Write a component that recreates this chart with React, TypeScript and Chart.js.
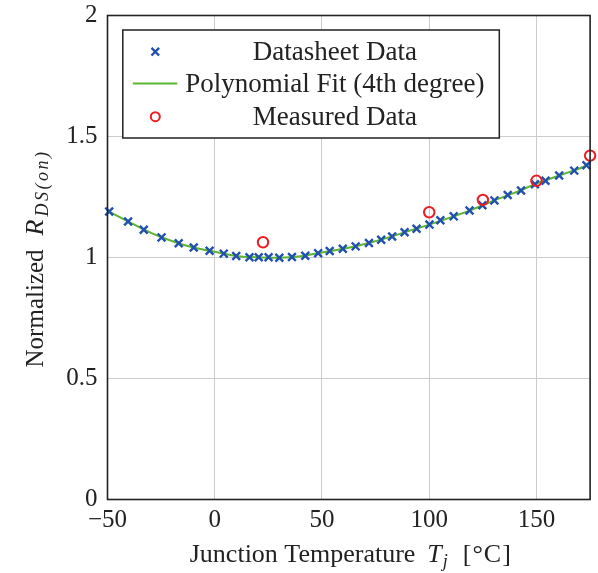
import React, { useEffect, useRef } from "react";
import { Chart, registerables } from "chart.js";

Chart.register(...registerables);

// Datasheet data (Tj in °C, normalized RDS(on))
const DS_T = [-49.2, -40.4, -33.1, -24.8, -16.8, -9.8, -2.4, 4.2, 10.0, 16.2, 20.5, 25.1, 30.1, 36.0, 42.2, 48.2, 53.6, 59.7, 65.7, 71.9, 77.6, 82.7, 88.5, 94.1, 100.1, 105.2, 111.4, 118.8, 124.8, 130.4, 136.6, 142.8, 149.3, 154.2, 160.6, 167.6, 173.3];
const DS_R = [1.190, 1.149, 1.115, 1.083, 1.059, 1.041, 1.028, 1.016, 1.006, 1.001, 1.001, 1.001, 0.999, 1.002, 1.007, 1.018, 1.027, 1.036, 1.046, 1.060, 1.073, 1.087, 1.104, 1.119, 1.136, 1.154, 1.170, 1.194, 1.216, 1.236, 1.258, 1.277, 1.303, 1.317, 1.339, 1.359, 1.381];

// Polynomial fit curve
const FIT_T = [-50, -40, -30, -20, -10, 0, 10, 20, 30, 40, 50, 60, 70, 80, 90, 100, 110, 120, 130, 140, 150, 160, 170, 175];
const FIT_R = [1.193, 1.147, 1.103, 1.068, 1.041, 1.024, 1.006, 1.001, 0.999, 1.005, 1.021, 1.036, 1.056, 1.080, 1.108, 1.136, 1.166, 1.198, 1.235, 1.268, 1.305, 1.337, 1.368, 1.387];

// Measured data
const MEAS_T = [22.5, 100, 125, 150, 175];
const MEAS_R = [1.063, 1.187, 1.238, 1.317, 1.421];

const X_TICKS = [-50, 0, 50, 100, 150];
const Y_TICKS = [0, 0.5, 1, 1.5, 2];

const LEGEND_LABELS = ["Datasheet Data", "Polynomial Fit (4th degree)", "Measured Data"];

const FONT = "'Liberation Serif', 'Times New Roman', serif";
const BLUE = "#2150ad";
const GREEN = "#5cb531";
const RED = "#ec1c24";
const TEXT = "#222222";

type Piece = { text?: string; font?: string; dy?: number; gap?: number; ls?: number };

function pieceWidth(ctx: any, p: Piece) {
  if (p.gap !== undefined) return p.gap;
  ctx.font = p.font;
  ctx.letterSpacing = (p.ls || 0) + "px";
  const w = ctx.measureText(p.text).width;
  ctx.letterSpacing = "0px";
  return w;
}

function drawPieces(ctx: any, pieces: Piece[], cx: number, y: number) {
  const widths = pieces.map((p) => pieceWidth(ctx, p));
  const total = widths.reduce((a, b) => a + b, 0);
  let x = cx - total / 2;
  ctx.textAlign = "left";
  ctx.textBaseline = "alphabetic";
  pieces.forEach((p, i) => {
    if (p.text !== undefined) {
      ctx.font = p.font;
      ctx.letterSpacing = (p.ls || 0) + "px";
      ctx.fillText(p.text, x, y + (p.dy || 0));
      ctx.letterSpacing = "0px";
    }
    x += widths[i];
  });
}

const overlayPlugin = {
  id: "overlay",
  afterDatasetsDraw(chart: any) {
    const { ctx, chartArea } = chart;
    ctx.save();
    ctx.strokeStyle = TEXT;
    ctx.lineWidth = 1.6;
    ctx.strokeRect(chartArea.left, chartArea.top, chartArea.right - chartArea.left, chartArea.bottom - chartArea.top);
    ctx.restore();
  },
  afterDraw(chart: any) {
    const { ctx, chartArea } = chart;
    ctx.save();
    // Legend box
    const bx = chartArea.left + 15.3;
    const by = chartArea.top + 14.5;
    const bw = 376.5;
    const bh = 108;
    ctx.fillStyle = "#ffffff";
    ctx.fillRect(bx, by, bw, bh);
    ctx.strokeStyle = TEXT;
    ctx.lineWidth = 1.5;
    ctx.strokeRect(bx, by, bw, bh);

    const mx = bx + 32.5;
    const rowsMid = [21.7, 53.5, 86.7];
    const rowsBase = [29.5, 62, 95];
    // cross marker
    ctx.strokeStyle = BLUE;
    ctx.lineWidth = 2.4;
    const cy0 = by + rowsMid[0];
    const s = 3.8;
    ctx.beginPath();
    ctx.moveTo(mx - s, cy0 - s);
    ctx.lineTo(mx + s, cy0 + s);
    ctx.moveTo(mx + s, cy0 - s);
    ctx.lineTo(mx - s, cy0 + s);
    ctx.stroke();
    // line sample
    ctx.strokeStyle = GREEN;
    ctx.lineWidth = 2;
    ctx.beginPath();
    ctx.moveTo(bx + 10, by + rowsMid[1]);
    ctx.lineTo(bx + 54.5, by + rowsMid[1]);
    ctx.stroke();
    // circle marker
    ctx.strokeStyle = RED;
    ctx.lineWidth = 2;
    ctx.beginPath();
    ctx.arc(mx, by + rowsMid[2], 4.5, 0, Math.PI * 2);
    ctx.stroke();

    ctx.fillStyle = TEXT;
    ctx.font = `27px ${FONT}`;
    ctx.textAlign = "center";
    ctx.textBaseline = "alphabetic";
    LEGEND_LABELS.forEach((t, i) => {
      ctx.fillText(t, bx + 212, by + rowsBase[i]);
    });

    // X axis title
    const cx = (chartArea.left + chartArea.right) / 2;
    drawPieces(
      ctx,
      [
        { text: "Junction Temperature", font: `26px ${FONT}` },
        { gap: 12 },
        { text: "T", font: `italic 26px ${FONT}`, ls: 1 },
        { text: "j", font: `italic 18px ${FONT}`, dy: 5 },
        { gap: 15 },
        { text: "[°C]", font: `26px ${FONT}`, ls: 1 },
      ],
      cx + 2,
      562
    );

    // Y axis title
    const cyMid = (chartArea.top + chartArea.bottom) / 2;
    ctx.translate(43, cyMid + 1);
    ctx.rotate(-Math.PI / 2);
    drawPieces(
      ctx,
      [
        { text: "Normalized", font: `25px ${FONT}` },
        { gap: 14 },
        { text: "R", font: `italic 26px ${FONT}`, ls: 3 },
        { text: "DS(on)", font: `italic 18px ${FONT}`, dy: 5, ls: 2.5 },
      ],
      0,
      0
    );
    ctx.restore();
  },
};

export default function App() {
  const canvasRef = useRef<HTMLCanvasElement | null>(null);

  useEffect(() => {
    document.body.style.margin = "0";
    const canvas = canvasRef.current;
    if (!canvas) return;

    const chart = new Chart(canvas, {
      type: "scatter",
      data: {
        datasets: [
          {
            label: LEGEND_LABELS[2],
            data: MEAS_T.map((t, i) => ({ x: t, y: MEAS_R[i] })),
            pointStyle: "circle",
            pointRadius: 5.2,
            pointBorderWidth: 2,
            borderColor: RED,
            backgroundColor: "rgba(0,0,0,0)",
            showLine: false,
            order: 0,
            clip: false,
          },
          {
            label: LEGEND_LABELS[0],
            data: DS_T.map((t, i) => ({ x: t, y: DS_R[i] })),
            pointStyle: "crossRot",
            pointRadius: 5.5,
            pointBorderWidth: 2.4,
            borderColor: BLUE,
            backgroundColor: BLUE,
            showLine: false,
            order: 1,
            clip: false,
          },
          {
            label: LEGEND_LABELS[1],
            data: FIT_T.map((t, i) => ({ x: t, y: FIT_R[i] })),
            showLine: true,
            pointRadius: 0,
            borderColor: GREEN,
            backgroundColor: GREEN,
            borderWidth: 2,
            tension: 0.4,
            order: 2,
          } as any,
        ],
      },
      options: {
        animation: false,
        responsive: false,
        layout: { padding: { top: 15.5, right: 6, left: 0, bottom: 0 } },
        plugins: {
          legend: { display: false },
          tooltip: { enabled: false },
        },
        scales: {
          x: {
            type: "linear",
            min: -50,
            max: 175,
            afterBuildTicks: (scale: any) => {
              scale.ticks = X_TICKS.map((v) => ({ value: v }));
            },
            afterFit: (scale: any) => {
              scale.height = 73.5;
              scale.paddingLeft = 0;
              scale.paddingRight = 0;
              scale.paddingTop = 0;
              scale.paddingBottom = 0;
            },
            grid: { color: "#cccccc", lineWidth: 1, drawTicks: false },
            border: { display: false },
            ticks: {
              padding: 6,
              color: TEXT,
              font: { family: FONT, size: 25 },
              maxRotation: 0,
              autoSkip: false,
              callback: (v: any) => (Number(v) < 0 ? "\u2212" + Math.abs(Number(v)) : String(v)),
            },
          },
          y: {
            type: "linear",
            min: 0,
            max: 2,
            afterBuildTicks: (scale: any) => {
              scale.ticks = Y_TICKS.map((v) => ({ value: v }));
            },
            afterFit: (scale: any) => {
              scale.width = 107.5;
              scale.paddingLeft = 0;
              scale.paddingRight = 0;
              scale.paddingTop = 0;
              scale.paddingBottom = 0;
            },
            grid: { color: "#cccccc", lineWidth: 1, drawTicks: false },
            border: { display: false },
            ticks: {
              padding: 10,
              color: TEXT,
              font: { family: FONT, size: 25 },
              autoSkip: false,
              callback: (v: any) => String(v),
            },
          },
        },
      },
      plugins: [overlayPlugin],
    });

    return () => chart.destroy();
  }, []);

  return (
    <div style={{ width: 598, height: 573 }}>
      <canvas ref={canvasRef} width={598} height={573} style={{ display: "block" }} />
    </div>
  );
}
